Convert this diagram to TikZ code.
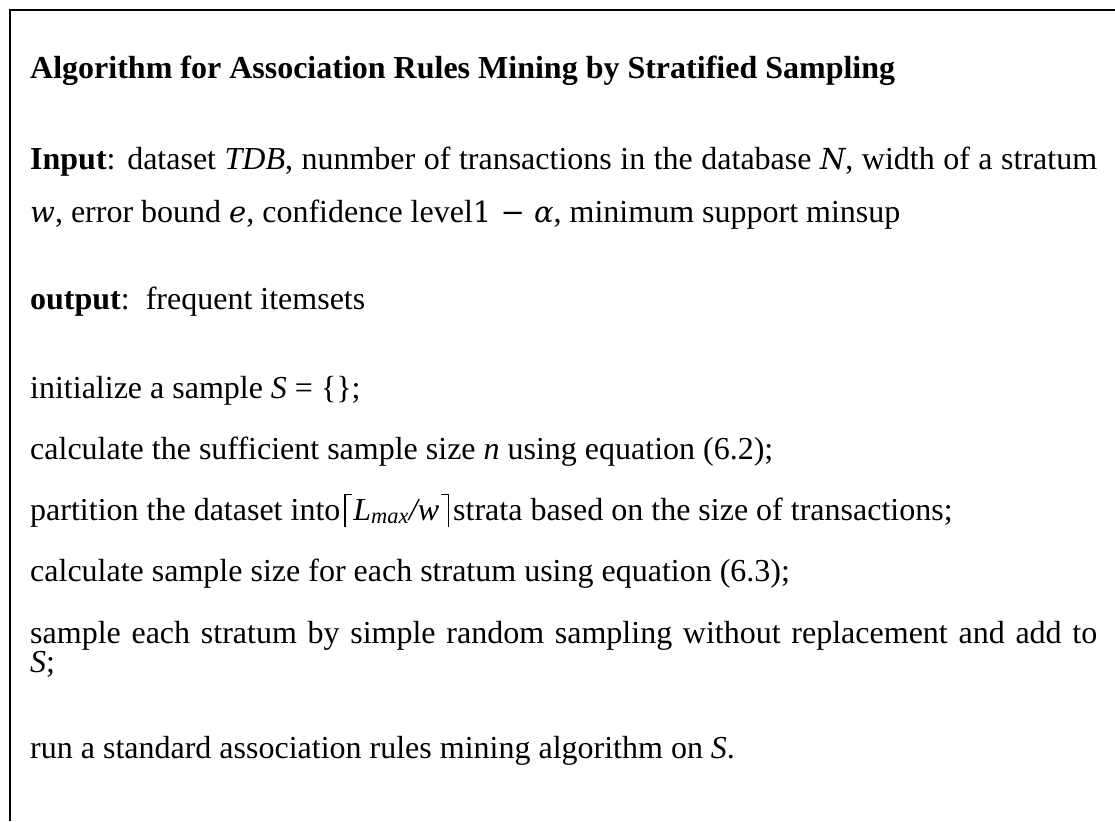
\documentclass[tikz,border=0pt]{standalone}
\usepackage{fontspec}
\setmainfont{Liberation Serif}
\newfontfamily\cmathfont{DejaVu Serif}
\newcommand{\mv}[1]{{\cmathfont\fontsize{29}{36}\selectfont\itshape #1}}
\newcommand{\lceilr}{\kern4pt\rule[-7pt]{1.2pt}{33pt}\kern-1.2pt\rule[24.8pt]{8pt}{1.2pt}\kern1pt}
\newcommand{\rceilr}{\kern2pt\rule[24.8pt]{8pt}{1.2pt}\kern-1.2pt\rule[-7pt]{1.2pt}{33pt}\kern4pt}
\begin{document}
\begin{tikzpicture}[x=1pt,y=-1pt,
  txt/.style={anchor=base west, inner sep=0pt, font=\fontsize{32}{38}\selectfont},
  frame/.style={line width=2pt}]
\useasboundingbox (0,0) rectangle (1115,821);
\coordinate (tl) at (10,10);
\coordinate (tr) at (1115,10);
\coordinate (bl) at (10,821);
\draw[frame] (tr) -- (tl) -- (bl);
\node[txt] (title) at (30,79) {\textbf{Algorithm for Association Rules Mining by Stratified Sampling}};
\node[txt] (in1) at (30,170) {\makebox[1067pt][s]{\textbf{Input}: dataset \textit{TDB}, nunmber of transactions in the database \mv{N}, width of a stratum}};
\node[txt] (in2) at (30,222) {\mv{w}, error bound \mv{e}, confidence level\mv{\upshape 1 − \itshape α}, minimum support minsup};
\node[txt] (out) at (30,309) {\textbf{output}:\ \ frequent itemsets};
\node[txt] (s1) at (30,398) {initialize a sample \textit{S} = \{\};};
\node[txt] (s2) at (30,459) {calculate the sufficient sample size \textit{n} using equation (6.2);};
\node[txt] (s3) at (30,520) {partition the dataset into\lceilr\textit{L}\textsubscript{\textit{max}}\textit{/w}\rceilr strata based on the size of transactions;};
\node[txt] (s4) at (30,581) {calculate sample size for each stratum using equation (6.3);};
\node[txt] (s5a) at (30,643) {\makebox[1067pt][s]{sample each stratum by simple random sampling without replacement and add to}};
\node[txt] (s5b) at (30,672) {\textit{S};};
\node[txt] (s6) at (30,758) {run a standard association rules mining algorithm on \textit{S}.};
\end{tikzpicture}
\end{document}
